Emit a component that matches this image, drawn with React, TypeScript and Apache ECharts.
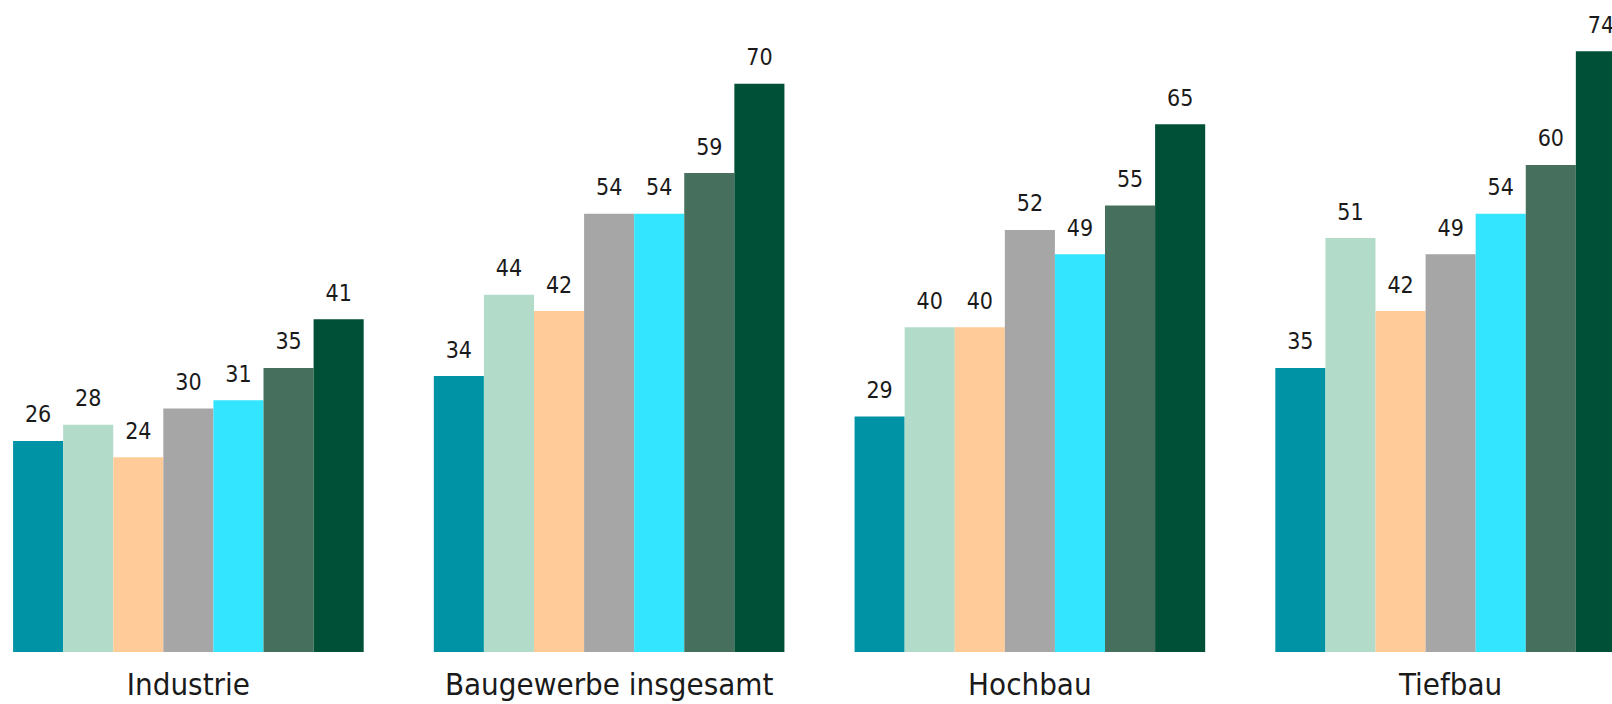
import React, { useEffect, useRef } from "react";
import * as echarts from "echarts";

const categories = ["Industrie", "Baugewerbe insgesamt", "Hochbau", "Tiefbau"];
const seriesNames = ["Reihe 1", "Reihe 2", "Reihe 3", "Reihe 4", "Reihe 5", "Reihe 6", "Reihe 7"];
const seriesColors = ["#0093A6", "#B3DBCA", "#FFCB99", "#A6A6A6", "#33E5FF", "#46705D", "#004F37"];
const values1 = [26, 34, 29, 35];
const values2 = [28, 44, 40, 51];
const values3 = [24, 42, 40, 42];
const values4 = [30, 54, 52, 49];
const values5 = [31, 54, 49, 54];
const values6 = [35, 59, 55, 60];
const values7 = [41, 70, 65, 74];
const allValues = [values1, values2, values3, values4, values5, values6, values7];

const FONT = "'Liberation Sans Narrow', 'DejaVu Sans Condensed', 'Noto Sans', sans-serif";

export default function App() {
  const ref = useRef<HTMLDivElement>(null);
  useEffect(() => {
    document.body.style.margin = "0";
    document.body.style.overflow = "hidden";
    const chart = echarts.init(ref.current!, undefined, { renderer: "svg" });
    chart.setOption({
      animation: false,
      grid: { left: 0, right: 0, top: 2.6, bottom: 52, containLabel: false },
      xAxis: {
        type: "category",
        data: categories,
        axisLine: { show: false },
        axisTick: { show: false },
        axisLabel: {
          fontFamily: FONT,
          fontSize: 31,
          color: "#1a1a1a",
          margin: 16,
          interval: 0,
        },
      },
      yAxis: {
        type: "value",
        min: 0,
        max: 80,
        show: false,
        splitLine: { show: false },
      },
      series: allValues.map((vals, i) => ({
        name: seriesNames[i],
        type: "bar",
        data: vals,
        barGap: "0%",
        barCategoryGap: "16.67%",
        itemStyle: { color: seriesColors[i] },
        label: {
          show: true,
          position: "top",
          distance: 15,
          fontFamily: FONT,
          fontSize: 23,
          color: "#1a1a1a",
        },
      })),
    });
    return () => chart.dispose();
  }, []);
  return (
    <div style={{ position: "fixed", left: 0, top: 0, width: 1612, height: 704, overflow: "hidden", background: "#fff" }}>
      <div ref={ref} style={{ position: "absolute", left: -22, top: 0, width: 1683, height: 704 }} />
    </div>
  );
}
